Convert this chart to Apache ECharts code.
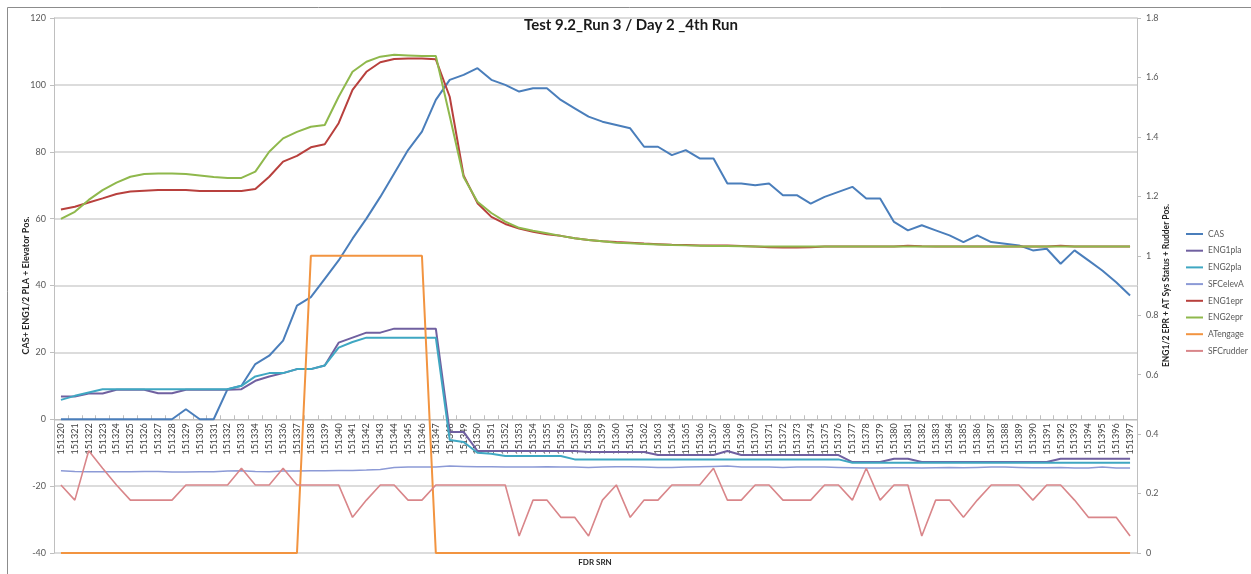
<!DOCTYPE html>
<html>
<head>
<meta charset="utf-8">
<script src="https://cdn.jsdelivr.net/npm/echarts@6/dist/echarts.min.js"></script>
<style>
  html, body { margin: 0; padding: 0; background: #fff; }
  #chart { width: 1251px; height: 574px; }
</style>
</head>
<body>
<div id="chart"></div>
<script>
// FDR sample numbers along the horizontal axis
const categories = [
  '151320','151321','151322','151323','151324','151325','151326','151327','151328','151329',
  '151330','151331','151332','151333','151334','151335','151336','151337','151338','151339',
  '151340','151341','151342','151343','151344','151345','151346','151347','151348','151349',
  '151350','151351','151352','151353','151354','151355','151356','151357','151358','151359',
  '151360','151361','151362','151363','151364','151365','151366','151367','151368','151369',
  '151370','151371','151372','151373','151374','151375','151376','151377','151378','151379',
  '151380','151381','151382','151383','151384','151385','151386','151387','151388','151389',
  '151390','151391','151392','151393','151394','151395','151396','151397'
];

// Left axis series
const cas = [
  0, 0, 0, 0, 0, 0, 0, 0, 0, 3,
  0, 0, 9, 10, 16.5, 19, 23.5, 34, 36.5, 42,
  47.5, 54, 60, 66.5, 73.5, 80.5, 86, 95.5, 101.5, 103,
  105, 101.5, 100, 98, 99, 99, 95.5, 93, 90.5, 89,
  88, 87, 81.5, 81.5, 79, 80.5, 78, 78, 70.5, 70.5,
  70, 70.5, 67, 67, 64.5, 66.5, 68, 69.5, 66, 66,
  59, 56.5, 58, 56.5, 55, 53, 55, 53, 52.5, 52,
  50.5, 51, 46.5, 50.5, 47.5, 44.5, 41, 37
];
const eng1pla = [
  6.8, 6.8, 7.7, 7.7, 8.8, 8.8, 8.8, 7.8, 7.8, 8.8,
  8.8, 8.8, 8.8, 9, 11.5, 12.8, 13.8, 15, 15, 16.1,
  22.9, 24.4, 25.9, 25.9, 27.1, 27.1, 27.1, 27.1, -3.8, -3.8,
  -9.5, -9.5, -9.5, -9.5, -9.5, -9.5, -9.5, -9.5, -9.8, -9.8,
  -9.8, -9.8, -9.8, -10.7, -10.7, -10.7, -10.7, -10.7, -9.5, -10.7,
  -10.7, -10.7, -10.7, -10.7, -10.7, -10.7, -10.7, -12.8, -12.8, -12.8,
  -11.8, -11.8, -12.8, -12.8, -12.8, -12.8, -12.8, -12.8, -12.8, -12.8,
  -12.8, -12.8, -11.8, -11.8, -11.8, -11.8, -11.8, -11.8
];
const eng2pla = [
  5.8, 7.0, 8.0, 9, 9, 9, 9, 9, 9, 9,
  9, 9, 9, 10, 12.8, 13.8, 13.8, 15, 15, 16.1,
  21.4, 23.1, 24.4, 24.4, 24.4, 24.4, 24.4, 24.4, -6.2, -6.8,
  -10, -10.3, -11, -11, -11, -11, -11, -12, -12, -12,
  -12, -12, -12, -12, -12, -12, -12, -12, -12, -12,
  -12, -12, -12, -12, -12, -12, -12, -13, -13, -13,
  -13, -13, -13, -13, -13, -13, -13, -13, -13, -13,
  -13, -13, -13, -13, -13, -13, -13, -13
];
const sfcElevA = [
  -15.4, -15.6, -15.7, -15.7, -15.7, -15.7, -15.6, -15.6, -15.8, -15.8,
  -15.7, -15.7, -15.5, -15.4, -15.6, -15.7, -15.5, -15.5, -15.4, -15.4,
  -15.3, -15.3, -15.2, -15.0, -14.4, -14.3, -14.3, -14.3, -14.0, -14.1,
  -14.2, -14.2, -14.3, -14.3, -14.3, -14.2, -14.3, -14.3, -14.4, -14.3,
  -14.2, -14.2, -14.3, -14.4, -14.4, -14.3, -14.2, -14.1, -14.0, -14.3,
  -14.3, -14.3, -14.4, -14.3, -14.3, -14.3, -14.4, -14.5, -14.6, -14.6,
  -14.5, -14.5, -14.6, -14.5, -14.4, -14.5, -14.4, -14.3, -14.3, -14.4,
  -14.5, -14.5, -14.4, -14.6, -14.6, -14.3, -14.6, -14.6
];

// Right axis series
const eng1epr = [
  1.156, 1.165, 1.179, 1.193, 1.208, 1.216, 1.219, 1.221, 1.221, 1.221,
  1.218, 1.218, 1.218, 1.218, 1.225, 1.266, 1.317, 1.336, 1.365, 1.375,
  1.446, 1.558, 1.619, 1.651, 1.662, 1.664, 1.664, 1.661, 1.535, 1.27,
  1.177, 1.131, 1.107, 1.092, 1.081, 1.072, 1.067, 1.059, 1.053, 1.049,
  1.046, 1.044, 1.041, 1.039, 1.037, 1.036, 1.035, 1.035, 1.035, 1.033,
  1.031, 1.029, 1.028, 1.028, 1.029, 1.031, 1.031, 1.031, 1.031, 1.031,
  1.031, 1.034, 1.032, 1.031, 1.031, 1.031, 1.031, 1.031, 1.031, 1.031,
  1.031, 1.031, 1.034, 1.031, 1.031, 1.031, 1.031, 1.031
];
const eng2epr = [
  1.124, 1.148, 1.188, 1.221, 1.246, 1.266, 1.275, 1.277, 1.277, 1.275,
  1.27, 1.265, 1.262, 1.262, 1.283, 1.35, 1.395, 1.417, 1.434, 1.44,
  1.535, 1.619, 1.653, 1.67, 1.676, 1.674, 1.672, 1.672, 1.47, 1.265,
  1.182, 1.144, 1.115, 1.094, 1.084, 1.076, 1.067, 1.059, 1.053, 1.049,
  1.044, 1.042, 1.04, 1.038, 1.036, 1.035, 1.034, 1.033, 1.033, 1.032,
  1.031, 1.031, 1.031, 1.031, 1.031, 1.031, 1.031, 1.031, 1.031, 1.031,
  1.031, 1.031, 1.031, 1.031, 1.031, 1.031, 1.031, 1.031, 1.031, 1.031,
  1.031, 1.031, 1.031, 1.031, 1.031, 1.031, 1.031, 1.031
];
const atEngage = [
  0, 0, 0, 0, 0, 0, 0, 0, 0, 0,
  0, 0, 0, 0, 0, 0, 0, 0, 1, 1,
  1, 1, 1, 1, 1, 1, 1, 0, 0, 0,
  0, 0, 0, 0, 0, 0, 0, 0, 0, 0,
  0, 0, 0, 0, 0, 0, 0, 0, 0, 0,
  0, 0, 0, 0, 0, 0, 0, 0, 0, 0,
  0, 0, 0, 0, 0, 0, 0, 0, 0, 0,
  0, 0, 0, 0, 0, 0, 0, 0
];
const sfcRudder = [
  0.229, 0.178, 0.344, 0.285, 0.229, 0.178, 0.178, 0.178, 0.178, 0.229,
  0.229, 0.229, 0.229, 0.285, 0.229, 0.229, 0.285, 0.229, 0.229, 0.229,
  0.229, 0.120, 0.178, 0.229, 0.229, 0.178, 0.178, 0.229, 0.229, 0.229,
  0.229, 0.229, 0.229, 0.057, 0.178, 0.178, 0.120, 0.120, 0.057, 0.178,
  0.229, 0.120, 0.178, 0.178, 0.229, 0.229, 0.229, 0.285, 0.178, 0.178,
  0.229, 0.229, 0.178, 0.178, 0.178, 0.229, 0.229, 0.178, 0.285, 0.178,
  0.229, 0.229, 0.057, 0.178, 0.178, 0.120, 0.178, 0.229, 0.229, 0.229,
  0.178, 0.229, 0.229, 0.178, 0.120, 0.120, 0.120, 0.057
];

const seriesDefs = [
  { name: 'CAS',       data: cas,       axis: 0, color: '#4a7ebb', width: 2 },
  { name: 'ENG1pla',   data: eng1pla,   axis: 0, color: '#7060a0', width: 2 },
  { name: 'ENG2pla',   data: eng2pla,   axis: 0, color: '#3fa7c2', width: 2 },
  { name: 'SFCelevA',  data: sfcElevA,  axis: 0, color: '#8c9ad6', width: 1.5 },
  { name: 'ENG1epr',   data: eng1epr,   axis: 1, color: '#b8403d', width: 2 },
  { name: 'ENG2epr',   data: eng2epr,   axis: 1, color: '#8fb84c', width: 2 },
  { name: 'ATengage',  data: atEngage,  axis: 1, color: '#f29440', width: 2 },
  { name: 'SFCrudder', data: sfcRudder, axis: 1, color: '#d9868a', width: 1.6 }
];

// Left value axis range; the category axis sits on its zero line
const LEFT_MIN = -40, LEFT_MAX = 120, LEFT_STEP = 20;
const GRID = { left: 54, right: 114, top: 18, bottom: 21 };
const plotHeight = 574 - GRID.top - GRID.bottom;
const zeroOffset = plotHeight * (0 - LEFT_MIN) / (LEFT_MAX - LEFT_MIN);

const FONT = 'Lato, "Liberation Sans", sans-serif';
const chart = echarts.init(document.getElementById('chart'), null, { renderer: 'canvas' });

chart.setOption({
  animation: false,
  backgroundColor: '#ffffff',
  textStyle: { fontFamily: FONT },
  grid: Object.assign({ containLabel: false, outerBoundsMode: 'none' }, GRID),
  legend: {
    orient: 'vertical',
    left: 1186,
    top: 228,
    padding: 0,
    icon: 'rect',
    itemWidth: 17,
    itemHeight: 2,
    itemGap: 4.7,
    textStyle: { fontFamily: FONT, fontSize: 8.5, color: '#595959', lineHeight: 12, width: 60, overflow: 'none' },
    data: seriesDefs.map(s => s.name)
  },
  xAxis: {
    type: 'category',
    data: categories,
    boundaryGap: true,
    offset: -zeroOffset,
    axisLine: { onZero: false, lineStyle: { color: '#bfbfbf', width: 1 } },
    axisTick: { show: true, inside: true, length: 4, interval: 0, lineStyle: { color: '#bfbfbf' } },
    axisLabel: { interval: 0, rotate: 90, fontSize: 9, color: '#404040', margin: 4, fontFamily: FONT },
    splitLine: { show: false }
  },
  yAxis: [
    {
      type: 'value',
      min: LEFT_MIN, max: LEFT_MAX, interval: LEFT_STEP,
      position: 'left',
      name: 'CAS+ ENG1/2 PLA + Elevator Pos.',
      nameLocation: 'middle',
      nameRotate: 90,
      nameGap: 23,
      nameMoveOverlap: false,
      nameTextStyle: { fontFamily: FONT, fontSize: 9, fontWeight: 'bold', color: '#262626' },
      axisLine: { show: true, lineStyle: { color: '#bfbfbf' } },
      axisTick: { show: true, length: 4, lineStyle: { color: '#bfbfbf' } },
      axisLabel: { fontSize: 9, color: '#595959', margin: 8, fontFamily: FONT },
      splitLine: { show: true, lineStyle: { color: '#d0d0d0', width: 1.5 } }
    },
    {
      type: 'value',
      min: 0, max: 1.8, interval: 0.2,
      position: 'right',
      name: 'ENG1/2 EPR + AT Sys Status + Rudder Pos.',
      nameLocation: 'middle',
      nameRotate: 90,
      nameGap: 25,
      nameMoveOverlap: false,
      nameTextStyle: { fontFamily: FONT, fontSize: 8.5, fontWeight: 'bold', color: '#262626' },
      axisLine: { show: true, lineStyle: { color: '#bfbfbf' } },
      axisTick: { show: true, length: 4, lineStyle: { color: '#bfbfbf' } },
      axisLabel: { fontSize: 9, color: '#595959', margin: 9, fontFamily: FONT },
      splitLine: { show: false }
    }
  ],
  graphic: [
    {
      type: 'polyline',
      shape: { points: [[7.5, 600], [7.5, 7.5], [1300, 7.5]] },
      style: { stroke: '#8c8c8c', lineWidth: 1, fill: null },
      silent: true
    },
    {
      type: 'text',
      x: 631, y: 25,
      style: {
        text: 'Test 9.2_Run 3 / Day 2 _4th Run',
        font: 'bold 15px ' + FONT,
        fill: '#1a1a1a',
        textAlign: 'center',
        textVerticalAlign: 'middle'
      }
    },
    {
      type: 'text',
      x: 595, y: 562,
      style: {
        text: 'FDR SRN',
        font: 'bold 8px ' + FONT,
        fill: '#262626',
        textAlign: 'center',
        textVerticalAlign: 'middle'
      }
    }
  ],
  series: seriesDefs.map(s => ({
    name: s.name,
    type: 'line',
    yAxisIndex: s.axis,
    data: s.data,
    symbol: 'none',
    smooth: false,
    color: s.color,
    lineStyle: { color: s.color, width: s.width },
    emphasis: { disabled: true }
  }))
});
</script>
</body>
</html>
